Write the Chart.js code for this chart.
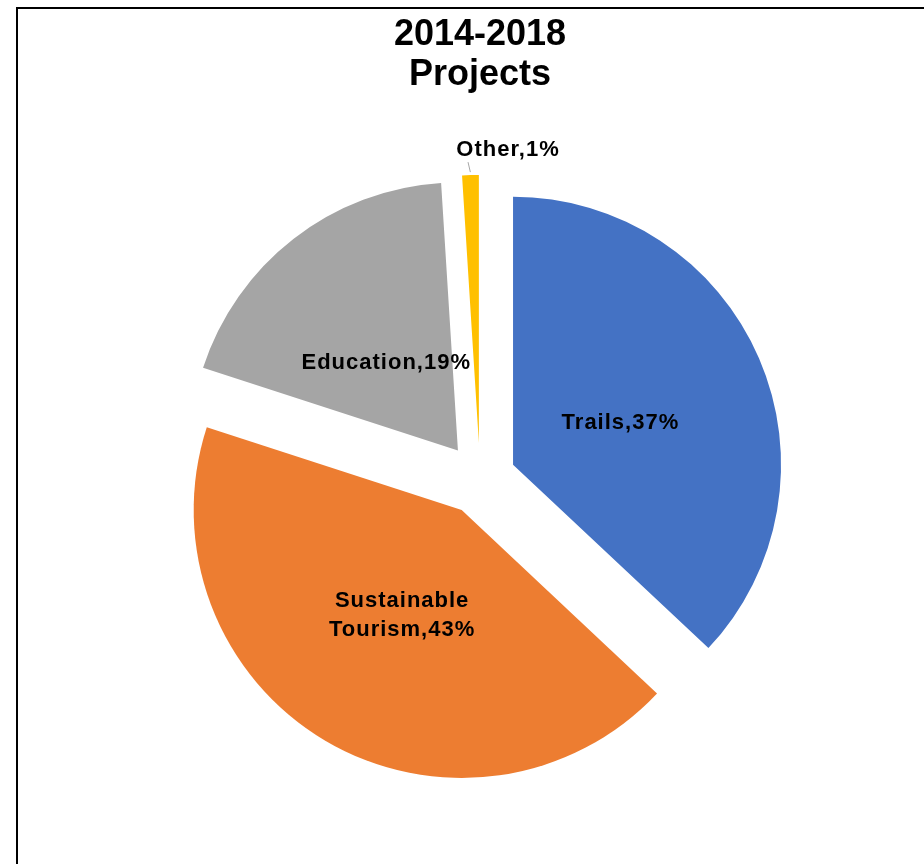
<!DOCTYPE html>
<html>
<head>
<meta charset="utf-8">
<script src="https://cdn.jsdelivr.net/npm/chart.js@4/dist/chart.umd.min.js"></script>
<style>
  html, body { margin: 0; padding: 0; background: #fff; }
  #wrap { position: relative; width: 924px; height: 864px; overflow: hidden; }
  #frame { position: absolute; left: 16px; top: 7px; width: 940px; height: 900px;
           border-left: 2px solid #000; border-top: 2px solid #000; }
  canvas { position: absolute; left: 0; top: 0; }
</style>
</head>
<body>
<div id="wrap">
  <div id="frame"></div>
  <canvas id="myPie" width="924" height="864"></canvas>
</div>
<script>
var categories = ['Trails', 'Sustainable Tourism', 'Education', 'Other'];
var shares = [37, 43, 19, 1];
var sliceColors = ['#4472C4', '#ED7D31', '#A5A5A5', '#FFC000'];
var titleLines = ['2014-2018', 'Projects'];

var explodeDist = 36;

// pull every slice out along its middle angle
var explodePlugin = {
    id: 'explode',
    afterDatasetUpdate: function (chart, args) {
        args.meta.data.forEach(function (arc) {
            var mid = (arc.startAngle + arc.endAngle) / 2;
            arc.x += Math.cos(mid) * explodeDist;
            arc.y += Math.sin(mid) * explodeDist;
        });
    }
};

// "Category,NN%" labels, small slices get a leader line outside
var labelPlugin = {
    id: 'sliceLabels',
    afterDatasetsDraw: function (chart) {
        var ctx = chart.ctx;
        var arcs = chart.getDatasetMeta(0).data;
        ctx.save();
        ctx.font = 'bold 22px "Liberation Sans", Arial, sans-serif';
        ctx.letterSpacing = '1px';
        ctx.fillStyle = '#000';
        ctx.textAlign = 'center';
        ctx.textBaseline = 'middle';
        arcs.forEach(function (arc, i) {
            var mid = (arc.startAngle + arc.endAngle) / 2;
            var cos = Math.cos(mid), sin = Math.sin(mid);
            var text = categories[i] + ',' + shares[i] + '%';
            if (shares[i] < 5) {
                var r = arc.outerRadius;
                var x1 = arc.x + cos * (r + 3), y1 = arc.y + sin * (r + 3);
                var x2 = arc.x + cos * (r + 13) - 2, y2 = arc.y + sin * (r + 13);
                ctx.strokeStyle = '#a6a6a6';
                ctx.lineWidth = 1;
                ctx.beginPath();
                ctx.moveTo(x1, y1);
                ctx.lineTo(x2, y2);
                ctx.stroke();
                ctx.fillText(text, x2 + 40, y2 - 12);
                return;
            }
            var d = 117;
            var cx = arc.x + cos * d, cy = arc.y + sin * d + 5;
            var lines = [text];
            if (ctx.measureText(text).width > 190) {
                var sp = text.indexOf(' ');
                lines = [text.slice(0, sp), text.slice(sp + 1)];
            }
            var lh = 29;
            lines.forEach(function (ln, k) {
                ctx.fillText(ln, cx, cy + (k - (lines.length - 1) / 2) * lh);
            });
        });
        ctx.restore();
    }
};

var ctx = document.getElementById('myPie');
var myPie = new Chart(ctx, {
    type: 'pie',
    data: {
        labels: categories,
        datasets: [{
            data: shares,
            backgroundColor: sliceColors,
            borderWidth: 0,
            radius: 268
        }]
    },
    options: {
        responsive: false,
        animation: false,
        devicePixelRatio: 1,
        layout: { padding: { left: 36, right: 0, top: 0, bottom: 6 } },
        plugins: {
            legend: { display: false },
            tooltip: { enabled: false },
            title: {
                display: true,
                text: titleLines,
                color: '#000',
                font: { family: '"Liberation Sans", Arial, sans-serif', size: 36, weight: 'bold', lineHeight: 1.11 },
                padding: { top: 15, bottom: 5 }
            }
        }
    },
    plugins: [explodePlugin, labelPlugin]
});
</script>
</body>
</html>
